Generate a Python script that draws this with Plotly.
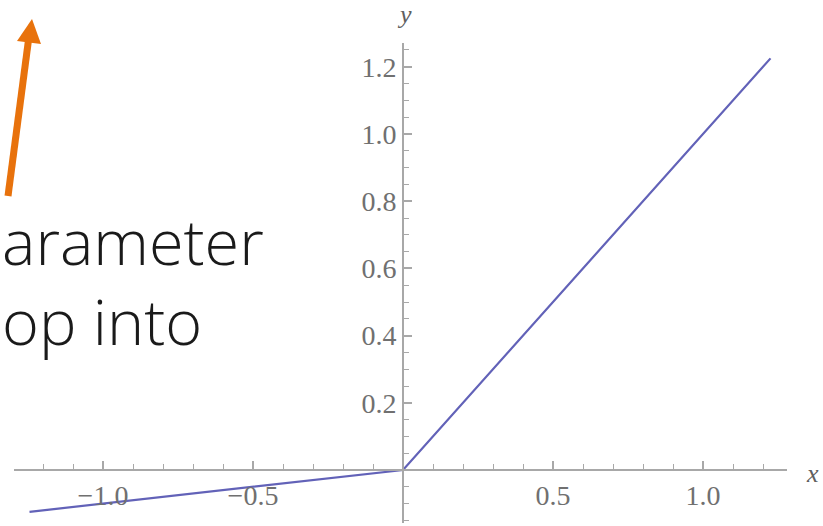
import plotly.graph_objects as go

# Data: Leaky ReLU with alpha = 0.1
x_vals = [-1.245, 0.0, 1.225]
y_vals = [-0.1245, 0.0, 1.225]

x_tickvals = [-1.0, -0.5, 0.5, 1.0]
x_ticktext = ["\u22121.0", "\u22120.5", "0.5", "1.0"]
y_tickvals = [0.2, 0.4, 0.6, 0.8, 1.0, 1.2]
y_ticktext = ["0.2", "0.4", "0.6", "0.8", "1.0", "1.2"]

text_lines = ["arameter", "op into"]

W, H = 823, 526

def px(xp):
    return xp / W

def py(yp):
    return 1 - yp / H

fig = go.Figure()
fig.add_trace(go.Scatter(x=x_vals, y=y_vals, mode="lines",
                         line=dict(color="#6262b8", width=2.2), hoverinfo="skip"))

axis_color = "#a8a8a8"
tick_font = dict(family="Liberation Serif, DejaVu Serif, serif", size=28, color="#707070")

fig.update_layout(
    width=W, height=H,
    margin=dict(l=0, r=0, t=0, b=0),
    paper_bgcolor="white", plot_bgcolor="rgba(0,0,0,0)",
    showlegend=False,
    xaxis=dict(
        domain=[px(14), px(787)], range=[-1.2967, 1.28],
        anchor="free", position=py(470),
        showgrid=False, zeroline=False,
        showline=True, linecolor=axis_color, linewidth=2,
        ticks="inside", ticklen=8, tickwidth=1.5, tickcolor=axis_color,
        tickvals=x_tickvals, ticktext=x_ticktext, tickfont=tick_font,
        minor=dict(ticks="inside", ticklen=5, tickwidth=1.2, tickcolor=axis_color,
                   tick0=0, dtick=0.1),
        fixedrange=True,
    ),
    yaxis=dict(
        domain=[py(523), py(43)], range=[-0.1577, 1.2708],
        anchor="free", position=px(403),
        showgrid=False, zeroline=False,
        showline=True, linecolor=axis_color, linewidth=2,
        ticks="inside", ticklen=8, tickwidth=1.5, tickcolor=axis_color,
        tickvals=y_tickvals, ticktext=y_ticktext, tickfont=tick_font,
        minor=dict(ticks="inside", ticklen=5, tickwidth=1.2, tickcolor=axis_color,
                   tick0=0, dtick=0.05),
        fixedrange=True,
    ),
)

# axis labels
fig.add_annotation(text="<i>y</i>", xref="paper", yref="paper", x=px(404), y=py(15),
                   showarrow=False, xanchor="center", yanchor="middle",
                   font=dict(family="Liberation Serif, serif", size=26, color="#606060"))
fig.add_annotation(text="<i>x</i>", xref="paper", yref="paper", x=px(804), y=py(473),
                   showarrow=False, xanchor="left", yanchor="middle",
                   font=dict(family="Liberation Serif, serif", size=26, color="#606060"))

# slide text
fig.add_annotation(text=text_lines[0], xref="paper", yref="paper", x=px(0), y=py(240),
                   showarrow=False, xanchor="left", yanchor="middle",
                   font=dict(family="Open Sans, Lato, sans-serif", size=63, color="#1a1a1a", weight=300))
fig.add_annotation(text=text_lines[1], xref="paper", yref="paper", x=px(0), y=py(320),
                   showarrow=False, xanchor="left", yanchor="middle",
                   font=dict(family="Open Sans, Lato, sans-serif", size=63, color="#1a1a1a", weight=300))

# orange arrow
orange = "#e8720c"
fig.add_shape(type="line", xref="paper", yref="paper",
              x0=px(8), y0=py(196), x1=px(28.5), y1=py(40),
              line=dict(color=orange, width=7))
fig.add_shape(type="path", xref="paper", yref="paper",
              path=f"M {px(17)},{py(41)} L {px(32)},{py(19)} L {px(41)},{py(44)} Z",
              fillcolor=orange, line=dict(color=orange, width=0))

fig.write_html("out.html", config={"displayModeBar": False},
               post_script="document.body.style.margin='0';")
